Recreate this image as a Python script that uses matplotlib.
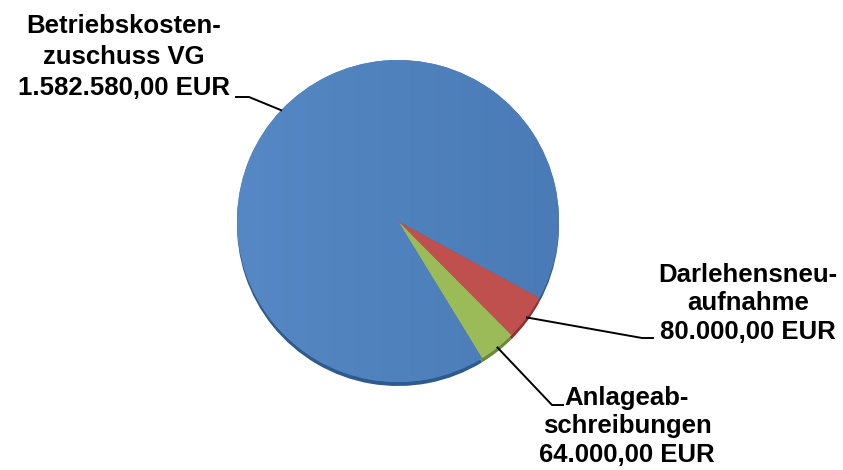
import matplotlib.pyplot as plt
import numpy as np

names = ["Betriebskosten-\nzuschuss VG", "Darlehensneu-\naufnahme", "Anlageab-\nschreibungen"]
values = [1582580.00, 80000.00, 64000.00]
colors = ["#4F81BD", "#C0504D", "#9BBB59"]
rim_colors = ["#2F5A8E", "#8A3331", "#6B8838"]

W, H = 843, 470
fig = plt.figure(figsize=(W / 100, H / 100), dpi=100)
ax = fig.add_axes([0, 0, 1, 1])

cx, cy, r = 398, H - 221, 161


def eur(v):
    s = f"{v:,.2f}"
    return s.replace(",", "X").replace(".", ",").replace("X", ".") + " EUR"


# dark rim below the pie for the 3d look
ax.pie(values, colors=rim_colors, startangle=-58.5, counterclock=False,
       radius=r, center=(cx, cy - 4), frame=True)
wedges, _ = ax.pie(values, colors=colors, startangle=-58.5, counterclock=False,
                   radius=r, center=(cx, cy), frame=True)

# soft shading on the big slice
grad = np.linspace(0, 1, 256)[None, :]
im = ax.imshow(grad, cmap=plt.matplotlib.colors.LinearSegmentedColormap.from_list(
    "b", ["#5588C4", "#4A7BB6"]), extent=(cx - r, cx + r, cy - r, cy + r),
    aspect="auto", zorder=1.5)
im.set_clip_path(wedges[0])

ax.set_xlim(0, W)
ax.set_ylim(0, H)
ax.axis("off")

# label layout: (text x, first baseline y, line step, elbow x, elbow y, end x)
layout = [
    (124, 33, 31, 249, 97, 236),
    (748, 282, 28.5, 642, 338, 653),
    (627, 405, 28.5, 552, 405, 563),
]
font = dict(family="Liberation Sans", weight="bold", size=18.5, color="black")

for w, name, v, (tx, ty, lh, ex, ey, endx) in zip(wedges, names, values, layout):
    lines = name.split("\n") + [eur(v)]
    for k, line in enumerate(lines):
        ax.text(tx, H - (ty + k * lh), line, ha="center", va="baseline", **font)
    m = np.deg2rad((w.theta1 + w.theta2) / 2)
    px, py = cx + r * np.cos(m), cy + r * np.sin(m)
    ax.plot([px, ex, endx], [py, H - ey, H - ey], color="black", lw=1.4,
            solid_joinstyle="miter", zorder=3)

fig.savefig("out.png", dpi=100)
